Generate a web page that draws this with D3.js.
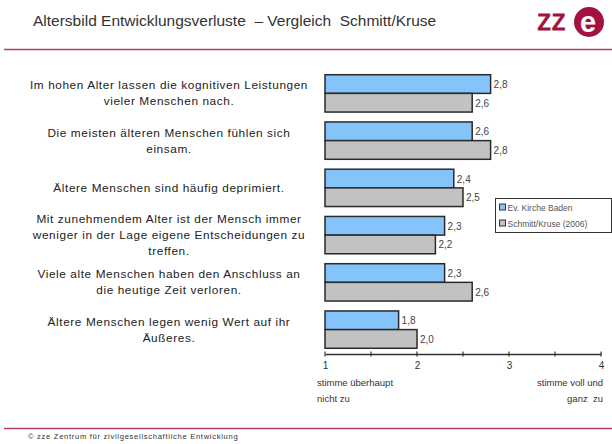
<!DOCTYPE html>
<html>
<head>
<meta charset="utf-8">
<script src="https://cdn.jsdelivr.net/npm/d3@7"></script>
<style>
body { margin: 0; background: #fff; }
svg { display: block; font-family: "Liberation Sans", Arial, sans-serif; }
</style>
</head>
<body>
<script>
var categories = [
	["Im hohen Alter lassen die kognitiven Leistungen", "vieler Menschen nach."],
	["Die meisten älteren Menschen fühlen sich", "einsam."],
	["Ältere Menschen sind häufig deprimiert."],
	["Mit zunehmendem Alter ist der Mensch immer", "weniger in der Lage eigene Entscheidungen zu", "treffen."],
	["Viele alte Menschen haben den Anschluss an", "die heutige Zeit verloren."],
	["Ältere Menschen legen wenig Wert auf ihr", "Äußeres."]
];
var seriesNames = ["Ev. Kirche Baden", "Schmitt/Kruse (2006)"];
var kircheBaden = [2.8, 2.6, 2.4, 2.3, 2.3, 1.8];
var schmittKruse = [2.6, 2.8, 2.5, 2.2, 2.6, 2.0];
var tickValues = [1, 2, 3, 4];
var minorTicks = [1.5, 2.5, 3.5];

var width = 612, height = 444;
var colors = ["#85c3fb", "#c2c2c2"];

var svg = d3.select("body").append("svg")
	.attr("width", width)
	.attr("height", height);

// header
svg.append("text")
	.attr("x", 33).attr("y", 26)
	.attr("font-size", 15.5).attr("fill", "#333")
	.style("white-space", "pre")
	.text("Altersbild Entwicklungsverluste  \u2013 Vergleich  Schmitt/Kruse");

var logo = svg.append("g");
logo.append("text")
	.attr("x", 537).attr("y", 30)
	.attr("font-size", 29)
	.attr("fill", "#a3123f")
	.attr("stroke", "#a3123f").attr("stroke-width", 0.8)
	.text("zz");
logo.append("circle")
	.attr("cx", 589).attr("cy", 22).attr("r", 15)
	.attr("fill", "#a3123f");
logo.append("text")
	.attr("x", 588).attr("y", 32)
	.attr("text-anchor", "middle")
	.attr("font-size", 29).attr("font-weight", "bold")
	.attr("fill", "#fff")
	.text("e");

svg.append("line")
	.attr("x1", 4).attr("x2", width).attr("y1", 49.5).attr("y2", 49.5)
	.attr("stroke", "#b4405f").attr("stroke-width", 1.5);
svg.append("line")
	.attr("x1", 4).attr("x2", width).attr("y1", 428.5).attr("y2", 428.5)
	.attr("stroke", "#b4405f").attr("stroke-width", 1.5);
svg.append("text")
	.attr("x", 28).attr("y", 439)
	.attr("font-size", 7.6).attr("fill", "#333")
	.attr("letter-spacing", 0.7)
	.text("\u00a9 zze Zentrum f\u00fcr zivilgesellschaftliche Entwicklung");

// scales
var xScale = d3.scaleLinear().domain([1, 4]).range([325, 601]);
var yScale = d3.scaleBand()
	.domain(d3.range(categories.length))
	.range([70, 353])
	.paddingInner(0.21)
	.paddingOuter(0.1);
var ySub = d3.scaleBand().domain([0, 1]).range([0, yScale.bandwidth()]);

var rows = categories.map((c, i) => ({ i: i, values: [kircheBaden[i], schmittKruse[i]] }));

var group = svg.selectAll(".group")
	.data(rows)
	.enter()
	.append("g")
	.attr("transform", d => `translate(0, ${yScale(d.i)})`);

group.selectAll("rect")
	.data(d => d.values)
	.enter()
	.append("rect")
	.attr("x", xScale(1))
	.attr("y", (d, j) => ySub(j))
	.attr("width", d => xScale(d) - xScale(1))
	.attr("height", ySub.bandwidth())
	.attr("fill", (d, j) => colors[j])
	.attr("stroke", "#2a2a2a")
	.attr("stroke-width", 1.5);

group.selectAll(".val")
	.data(d => d.values)
	.enter()
	.append("text")
	.attr("class", "val")
	.attr("x", d => xScale(d) + 3)
	.attr("y", (d, j) => ySub(j) + ySub.bandwidth() / 2 + 4)
	.attr("font-size", 10).attr("fill", "#444")
	.text(d => d3.format(".1f")(d).replace(".", ","));

// category labels
var labelX = 169;
svg.selectAll(".cat")
	.data(categories)
	.enter()
	.append("text")
	.attr("class", "cat")
	.attr("text-anchor", "middle")
	.attr("font-size", 11.8).attr("fill", "#222")
	.attr("letter-spacing", 0.6)
	.attr("y", (d, i) => yScale(i) + yScale.bandwidth() / 2 + 4 - (d.length - 1) * 8)
	.selectAll("tspan")
	.data(d => d)
	.enter()
	.append("tspan")
	.attr("x", labelX)
	.attr("dy", (d, k) => k === 0 ? 0 : 16)
	.text(d => d);

// axis
var axisY = 354;
var xAxis = d3.axisBottom(xScale).tickValues(tickValues).tickFormat(d3.format("d")).tickSize(0).tickPadding(8);
var axisG = svg.append("g").attr("transform", `translate(0, ${axisY})`).call(xAxis);
axisG.select(".domain").attr("stroke", "#333").attr("stroke-width", 1.5);
axisG.selectAll("text").attr("font-size", 10).attr("fill", "#333").attr("font-family", "Liberation Sans, Arial, sans-serif");
axisG.selectAll(".tick line").remove();
axisG.selectAll(".mtick")
	.data(tickValues.concat(minorTicks))
	.enter()
	.append("line")
	.attr("x1", d => xScale(d)).attr("x2", d => xScale(d))
	.attr("y1", -2.5).attr("y2", 2.5)
	.attr("stroke", "#333").attr("stroke-width", 1.2);

var leftLab = svg.append("text").attr("font-size", 9.5).attr("fill", "#333");
leftLab.append("tspan").attr("x", 317).attr("y", 386).text("stimme \u00fcberhaupt");
leftLab.append("tspan").attr("x", 317).attr("y", 402).text("nicht zu");
var rightLab = svg.append("text").attr("font-size", 9.5).attr("fill", "#333").attr("text-anchor", "end");
rightLab.append("tspan").attr("x", 603).attr("y", 386).text("stimme voll und");
rightLab.append("tspan").attr("x", 603).attr("y", 402).style("white-space", "pre").text("ganz  zu");

// legend
var legend = svg.append("g").attr("transform", "translate(495.5, 198.5)");
legend.append("rect")
	.attr("width", 116).attr("height", 34)
	.attr("fill", "#fff").attr("stroke", "#333").attr("stroke-width", 1);
var li = legend.selectAll(".li")
	.data(seriesNames)
	.enter()
	.append("g")
	.attr("transform", (d, i) => `translate(4, ${9 + i * 16})`);
li.append("rect")
	.attr("x", 0).attr("y", -3.5).attr("width", 6).attr("height", 6)
	.attr("fill", (d, i) => colors[i]).attr("stroke", "#333").attr("stroke-width", 1);
li.append("text")
	.attr("x", 8).attr("y", 3)
	.attr("font-size", 8.5).attr("fill", "#555")
	.text(d => d);
</script>
</body>
</html>
